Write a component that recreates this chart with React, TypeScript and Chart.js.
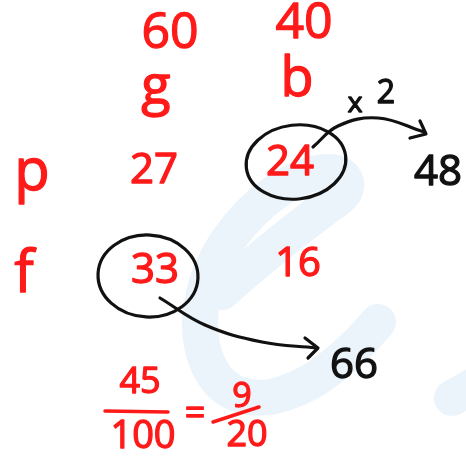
import React, { useEffect, useRef } from 'react';
import { Chart, registerables } from 'chart.js';

Chart.register(...registerables);

// ---- data (values written on the note) ----
const columnLabels = ['g', 'b'];
const columnTotals = ['60', '40'];
const rowLabels = ['p', 'f'];
const cellValues = [['27', '24'], ['33', '16']];
const multiplierLabel = ['x', '2'];
const doubledValues = ['48', '66'];
const fractionLeft = ['45', '100'];
const fractionRight = ['9', '20'];

// ---- layout (positions in page units) ----
const RED = '#ff1a1a';
const BLACK = '#111111';
const WATERMARK = '#ebf4fb';
const colX = [170, 300];
const totalsY = [34, 24];
const labelY = [104, 96];

type TextItem = { x: number; y: number; text: string; size: number; color: string; base?: CanvasTextBaseline };

function buildTexts(): TextItem[] {
  const t: TextItem[] = [];
  columnTotals.forEach((v, i) => t.push({ x: colX[i] + (i === 1 ? 4 : 0), y: totalsY[i], text: v, size: 50, color: RED }));
  columnLabels.forEach((v, i) => t.push({ x: colX[i] - (i === 1 ? 3 : 14), y: labelY[i], text: v, size: 54, color: RED, base: 'alphabetic' }));
  t.push({ x: 32, y: 190, text: rowLabels[0], size: 58, color: RED, base: 'alphabetic' });
  t.push({ x: 24, y: 292, text: rowLabels[1], size: 58, color: RED, base: 'alphabetic' });
  t.push({ x: 154, y: 171, text: cellValues[0][0], size: 42, color: RED });
  t.push({ x: 290, y: 163, text: cellValues[0][1], size: 42, color: RED });
  t.push({ x: 155, y: 271, text: cellValues[1][0], size: 42, color: RED });
  t.push({ x: 298, y: 265, text: cellValues[1][1], size: 40, color: RED });
  t.push({ x: 355, y: 104, text: multiplierLabel[0], size: 28, color: BLACK });
  t.push({ x: 386, y: 94, text: multiplierLabel[1], size: 32, color: BLACK });
  t.push({ x: 438, y: 173, text: doubledValues[0], size: 42, color: BLACK });
  t.push({ x: 354, y: 366, text: doubledValues[1], size: 42, color: BLACK });
  t.push({ x: 140, y: 383, text: fractionLeft[0], size: 36, color: RED });
  t.push({ x: 143, y: 437, text: fractionLeft[1], size: 38, color: RED });
  t.push({ x: 195, y: 415, text: '=', size: 36, color: RED });
  t.push({ x: 242, y: 397, text: fractionRight[0], size: 34, color: RED });
  t.push({ x: 247, y: 436, text: fractionRight[1], size: 36, color: RED });
  return t;
}

const ellipses = [
  { x: 296, y: 162, rx: 50, ry: 37, rot: -0.12 },
  { x: 148, y: 276, rx: 50, ry: 41, rot: 0.05 },
];

const arrowPaths = [
  [{ x: 313, y: 147 }, { x: 338, y: 126 }, { x: 378, y: 118 }, { x: 424, y: 132 }],
  [{ x: 160, y: 298 }, { x: 205, y: 325 }, { x: 262, y: 342 }, { x: 316, y: 348 }],
];
const arrowHeads = [
  [{ x: 410, y: 138 }, { x: 426, y: 134 }, { x: 420, y: 121 }],
  [{ x: 305, y: 338 }, { x: 318, y: 348 }, { x: 308, y: 358 }],
];
const fractionBars = [
  [{ x: 105, y: 411 }, { x: 168, y: 412 }],
  [{ x: 213, y: 422 }, { x: 259, y: 407 }],
];

// faint background logo strokes
const watermarkStrokes = [
  { w: 36, pts: [{ x: 222, y: 292 }, { x: 270, y: 250 }, { x: 322, y: 210 }, { x: 350, y: 190 }, { x: 340, y: 170 }, { x: 300, y: 175 }, { x: 250, y: 210 }, { x: 210, y: 265 }, { x: 196, y: 330 }, { x: 215, y: 385 }, { x: 258, y: 402 }, { x: 310, y: 385 }, { x: 355, y: 348 }, { x: 378, y: 322 }] },
  { w: 36, pts: [{ x: 452, y: 398 }, { x: 475, y: 385 }] },
];

const notePlugin = {
  id: 'notePlugin',
  beforeDatasetsDraw(chart: any) {
    const { ctx, scales } = chart;
    ctx.save();
    ctx.strokeStyle = WATERMARK;
    ctx.lineCap = 'round';
    ctx.lineJoin = 'round';
    watermarkStrokes.forEach((s) => {
      const p = s.pts.map((q) => ({ x: scales.x.getPixelForValue(q.x), y: scales.y.getPixelForValue(q.y) }));
      ctx.lineWidth = s.w;
      ctx.beginPath();
      ctx.moveTo(p[0].x, p[0].y);
      for (let i = 1; i < p.length - 1; i++) {
        const mx = (p[i].x + p[i + 1].x) / 2;
        const my = (p[i].y + p[i + 1].y) / 2;
        ctx.quadraticCurveTo(p[i].x, p[i].y, mx, my);
      }
      ctx.lineTo(p[p.length - 1].x, p[p.length - 1].y);
      ctx.stroke();
    });
    ctx.restore();
  },
  afterDatasetsDraw(chart: any) {
    const { ctx, scales } = chart;
    chart.data.datasets.forEach((ds: any, di: number) => {
      const meta = chart.getDatasetMeta(di);
      if (ds.noteTexts) {
        meta.data.forEach((el: any, i: number) => {
          const it: TextItem = ds.noteTexts[i];
          ctx.save();
          ctx.font = `${it.size}px "Open Sans"`;
          ctx.fillStyle = it.color;
          ctx.strokeStyle = it.color;
          ctx.lineWidth = 1.3;
          ctx.lineJoin = 'round';
          ctx.textAlign = 'center';
          ctx.textBaseline = it.base || 'middle';
          ctx.fillText(it.text, el.x, el.y);
          ctx.strokeText(it.text, el.x, el.y);
          ctx.restore();
        });
      }
      if (ds.noteEllipses) {
        meta.data.forEach((el: any, i: number) => {
          const e = ds.noteEllipses[i];
          const rx = Math.abs(scales.x.getPixelForValue(e.x + e.rx) - el.x);
          const ry = Math.abs(scales.y.getPixelForValue(e.y + e.ry) - el.y);
          ctx.save();
          ctx.strokeStyle = BLACK;
          ctx.lineWidth = 3.2;
          ctx.beginPath();
          ctx.ellipse(el.x, el.y, rx, ry, e.rot, 0, Math.PI * 2);
          ctx.stroke();
          ctx.restore();
        });
      }
    });
  },
};

export default function App() {
  const ref = useRef<HTMLCanvasElement | null>(null);
  useEffect(() => {
    document.body.style.margin = '0';
    document.body.style.background = '#ffffff';
    if (!ref.current) return;
    const texts = buildTexts();
    const lineDs = (pts: { x: number; y: number }[], tension: number) => ({
      type: 'scatter' as const,
      data: pts,
      showLine: true,
      tension,
      borderColor: BLACK,
      borderWidth: 3.2,
      borderCapStyle: 'round',
      borderJoinStyle: 'round',
      pointRadius: 0,
      fill: false,
    });
    const chart = new Chart(ref.current, {
      type: 'scatter',
      data: {
        datasets: [
          ...arrowPaths.map((p) => lineDs(p, 0.4)),
          ...arrowHeads.map((p) => lineDs(p, 0)),
          ...fractionBars.map((p) => ({ ...lineDs(p, 0), borderColor: RED, borderWidth: 3.5 })),
          { data: ellipses.map((e) => ({ x: e.x, y: e.y })), pointRadius: 0, noteEllipses: ellipses } as any,
          { data: texts.map((t) => ({ x: t.x, y: t.y })), pointRadius: 0, noteTexts: texts } as any,
        ],
      },
      options: {
        animation: false,
        responsive: false,
        layout: { padding: 0 },
        plugins: { legend: { display: false }, tooltip: { enabled: false } },
        events: [],
        scales: {
          x: { type: 'linear', min: 0, max: 466, display: false },
          y: { type: 'linear', min: 0, max: 459, reverse: true, display: false },
        },
      },
      plugins: [notePlugin],
    });
    return () => chart.destroy();
  }, []);
  return <canvas ref={ref} width={466} height={459} style={{ display: 'block' }} />;
}
